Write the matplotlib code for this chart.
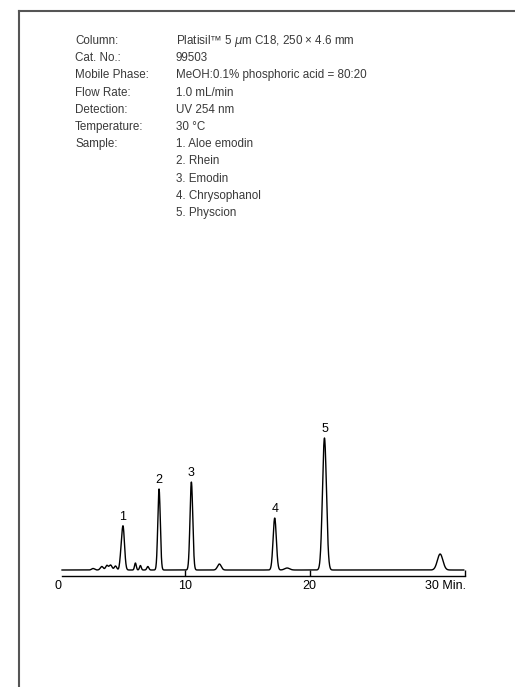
import numpy as np
import matplotlib
matplotlib.use("Agg")
from matplotlib import pyplot as plt
from matplotlib.lines import Line2D

plt.rcParams['font.family'] = ['Liberation Sans', 'DejaVu Sans']

# peaks: retention time (min), height, width (sigma, min)
peak_times = [2.6, 3.3, 3.7, 4.0, 4.4, 4.8, 5.0, 6.0, 6.4, 7.0, 7.9, 10.5, 12.75, 17.2, 18.2, 21.2, 30.5]
peak_heights = [1.5, 3.5, 4.5, 5, 4, 6, 44, 7, 4.5, 3.5, 81, 88, 6, 52, 2, 132, 16]
peak_widths = [0.12, 0.12, 0.1, 0.12, 0.1, 0.08, 0.12, 0.07, 0.07, 0.08, 0.1, 0.11, 0.15, 0.13, 0.2, 0.16, 0.22]

labeled_times = [5.0, 7.9, 10.5, 17.2, 21.2]
labeled_names = ['1', '2', '3', '4', '5']

conditions = ["Column:", "Cat. No.:", "Mobile Phase:", "Flow Rate:", "Detection:", "Temperature:", "Sample:"]
values = ["Platisil\u2122 5 $\\mu$m C18, 250 \u00d7 4.6 mm", "99503", "MeOH:0.1% phosphoric acid = 80:20",
          "1.0 mL/min", "UV 254 nm", "30 \u00b0C", "1. Aloe emodin", "2. Rhein", "3. Emodin",
          "4. Chrysophanol", "5. Physcion"]

W, H = 515, 687
fig = plt.figure(figsize=(W / 100, H / 100), dpi=100)

# page frame (left and top edges)
fig.add_artist(Line2D([19 / W, 19 / W], [0, 1 - 11 / H], color='#555555', lw=1.5))
fig.add_artist(Line2D([19 / W, 1], [1 - 11 / H, 1 - 11 / H], color='#555555', lw=1.5))

# condition text block
for i, s in enumerate(conditions):
    fig.text(75 / W, 1 - (41 + 17.2 * i) / H, s, fontsize=8.4, color='#3a3a3a', va='center')
for i, s in enumerate(values):
    fig.text(176 / W, 1 - (41 + 17.2 * i) / H, s, fontsize=8.4, color='#3a3a3a', va='center')

# chromatogram axes: x 0 -> px 58.3, 32.5 -> px 465
x0, x1 = 58.3, 465
ax = fig.add_axes([x0 / W, 111.3 / H, (x1 - x0) / W, 170 / H])
ax.set_xlim(0, 32.5)
ax.set_ylim(-5.7, 164.3)

t = np.linspace(0.1, 32.4, 3000)
y = np.zeros_like(t)
for tr, h, w in zip(peak_times, peak_heights, peak_widths):
    y += h * np.exp(-0.5 * ((t - tr) / w) ** 2)
ax.plot(t, y, color='black', lw=1.0)

for tr, name in zip(labeled_times, labeled_names):
    top = np.interp(tr, t, y)
    ax.text(tr, top + 3, name, ha='center', va='bottom', fontsize=9)

for side in ['top', 'right', 'left']:
    ax.spines[side].set_visible(False)
ax.spines['bottom'].set_bounds(0.1, 32.5)
ax.spines['bottom'].set_linewidth(1.0)
ax.set_yticks([])
ax.set_xticks([10, 20, 32.5], ['10', '20', ''])
ax.set_xticks([-0.2, 30.9], ['0', '30 Min.'], minor=True)
ax.tick_params(axis='x', which='major', direction='in', length=4, width=1.0, labelsize=9, pad=3)
ax.tick_params(axis='x', which='minor', length=0, labelsize=9, pad=3)

fig.savefig('out.png', dpi=100)
